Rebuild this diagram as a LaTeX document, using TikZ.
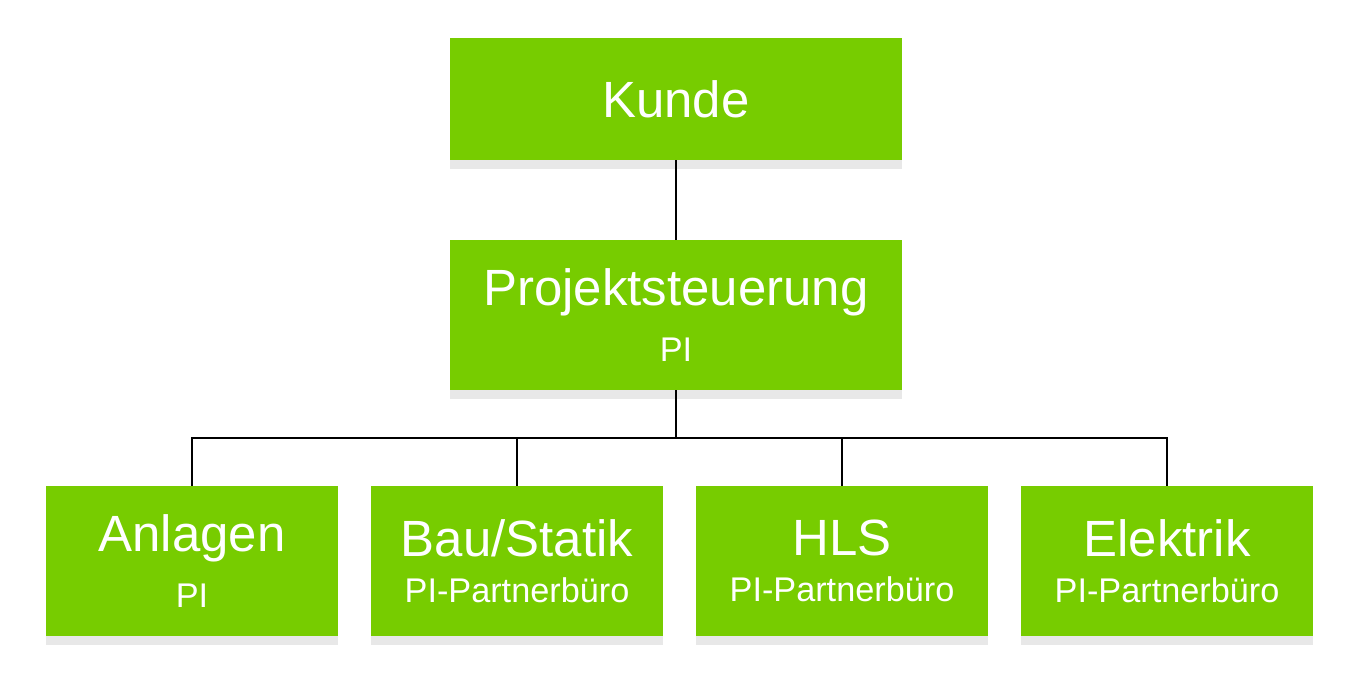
\documentclass[tikz,border=0pt]{standalone}
\usepackage{fontspec}
\setmainfont{Liberation Sans}
\usetikzlibrary{shadows}
\definecolor{orggreen}{HTML}{77CC00}
\tikzset{
  orgbox/.style={fill=orggreen, text=white, align=center, inner sep=0pt,
    minimum width=292*0.02cm, minimum height=150*0.02cm,
    drop shadow={opacity=0.18, shadow xshift=0pt, shadow yshift=-5pt}},
  bigbox/.style={orgbox, minimum width=452*0.02cm},
  link/.style={draw=black, line width=0.9pt}
}
\newcommand{\titletext}{\fontsize{29}{34}\selectfont}
\newcommand{\subtext}{\fontsize{19.5}{26}\selectfont}
\begin{document}
\begin{tikzpicture}[x=0.02cm, y=-0.02cm]
        \useasboundingbox (0,0) rectangle (1367,690);
        %Top
        \node [bigbox, minimum height=122*0.02cm] (kunde) at (676,99) {\titletext Kunde};
        \node [bigbox] (proj) at (676,315) {\titletext Projektsteuerung\\[11pt]\subtext PI};
        %Bottom row
        \node [orgbox] (anl) at  (192,561) {\titletext Anlagen\\[11pt]\subtext PI};
        \node [orgbox] (bau) at  (517,561) {\titletext Bau/Statik\\[11pt]\subtext PI-Partnerbüro};
        \node [orgbox] (hls) at  (842,561) {\titletext HLS\\[11pt]\subtext PI-Partnerbüro};
        \node [orgbox] (ele) at (1167,561) {\titletext Elektrik\\[11pt]\subtext PI-Partnerbüro};
        %Links
        \coordinate (bus) at (676,438);
        \draw [link] (kunde.south) -- (proj.north);
        \draw [link] (proj.south) -- (bus);
        \foreach \b in {anl,bau,hls,ele}
          \draw [link] (bus) -| (\b.north);
\end{tikzpicture}
\end{document}
